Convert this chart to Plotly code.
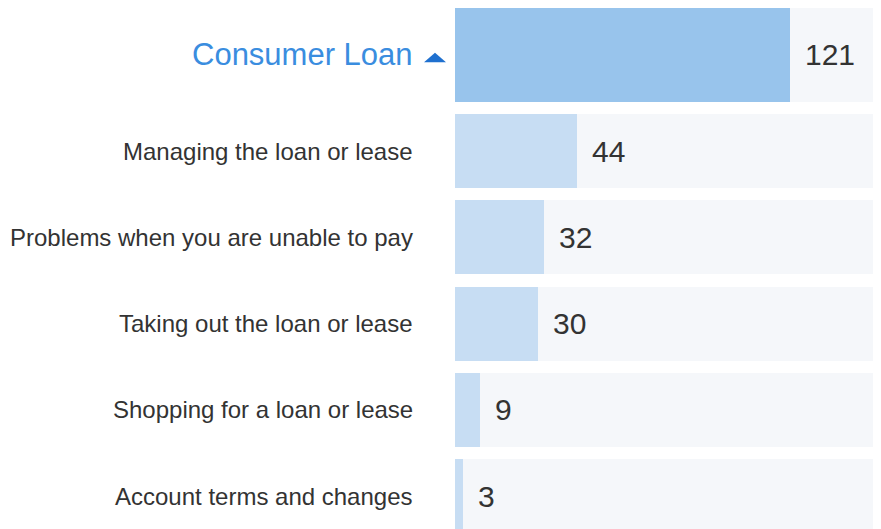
import plotly.graph_objects as go

# ---- data ----
header_label = "Consumer Loan"
header_value = 121
categories = [
    "Managing the loan or lease",
    "Problems when you are unable to pay",
    "Taking out the loan or lease",
    "Shopping for a loan or lease",
    "Account terms and changes",
]
values = [44, 32, 30, 9, 3]

# ---- layout constants (pixels, page offset of 8px by body margin) ----
OFF = 8
W, H = 881 - OFF, 529 - OFF
LEFT = 455 - OFF
LABEL_RIGHT = 415 - OFF
SCALE = 335.0 / 121  # px per unit
HEADER_CENTER, HEADER_H = 54.75 - OFF, 93.5
ROW0_CENTER, ROW_PITCH, ROW_H = 151.0 - OFF, 86.25, 74.0

PW = W - LEFT
X_MAX = PW / SCALE

ys = [ROW0_CENTER + i * ROW_PITCH for i in range(len(categories))]
all_y = [HEADER_CENTER] + ys
all_w = [HEADER_H] + [ROW_H] * len(categories)
all_v = [header_value] + values

FONT = "Liberation Sans, Arial, sans-serif"

fig = go.Figure()
# background tracks
fig.add_trace(go.Bar(
    orientation="h", y=all_y, x=[X_MAX * 1.05] * len(all_y), width=all_w,
    marker=dict(color="#f5f7fa", line=dict(width=0)), hoverinfo="skip",
    showlegend=False,
))
# value bars
fig.add_trace(go.Bar(
    orientation="h", y=all_y, x=all_v, width=all_w,
    marker=dict(color=["#98c4ec"] + ["#c7ddf3"] * len(values), line=dict(width=0)),
    showlegend=False,
))

ann = []
ann.append(dict(x=(LABEL_RIGHT - LEFT) / PW, xref="paper", xanchor="right",
                y=HEADER_CENTER, yref="y", yanchor="middle",
                text=header_label, showarrow=False,
                font=dict(family=FONT, size=31, color="#3a8ddf")))
for c, y in zip(categories, ys):
    ann.append(dict(x=(LABEL_RIGHT - LEFT) / PW, xref="paper", xanchor="right",
                    y=y, yref="y", yanchor="middle", text=c, showarrow=False,
                    font=dict(family=FONT, size=24, color="#333333")))
for v, y in zip(all_v, all_y):
    ann.append(dict(x=v, xref="x", xanchor="left", xshift=13,
                    y=y, yref="y", yanchor="middle", text=str(v), showarrow=False,
                    font=dict(family=FONT, size=30, color="#333333")))

# sort caret next to the header label
tri_y_base, tri_y_top = 62.3 - OFF, 52.7 - OFF
x0 = (424 - 455) / PW
x1 = (446 - 455) / PW
xm = (x0 + x1) / 2
shapes = [dict(type="path", xref="paper", yref="y",
               path=f"M {x0} {tri_y_base} L {x1} {tri_y_base} L {xm} {tri_y_top} Z",
               fillcolor="#1f70cf", line=dict(width=0))]

fig.update_layout(
    width=W, height=H,
    margin=dict(l=LEFT, r=0, t=0, b=0),
    paper_bgcolor="white", plot_bgcolor="white",
    barmode="overlay", bargap=0,
    xaxis=dict(range=[0, X_MAX], visible=False, fixedrange=True),
    yaxis=dict(range=[H, 0], visible=False, fixedrange=True),
    annotations=ann, shapes=shapes,
)

fig.write_html("out.html", config={"displayModeBar": False})
